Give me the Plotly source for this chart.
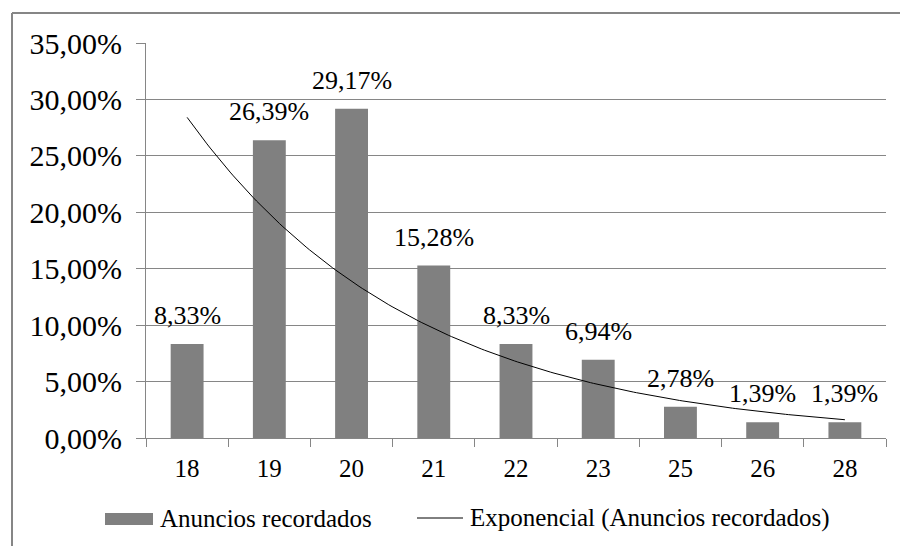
import numpy as np
import plotly.graph_objects as go

categories = ["18", "19", "20", "21", "22", "23", "25", "26", "28"]
values = [8.33, 26.39, 29.17, 15.28, 8.33, 6.94, 2.78, 1.39, 1.39]
y_ticks = [0, 5, 10, 15, 20, 25, 30, 35]
y_tick_labels = ["0,00%", "5,00%", "10,00%", "15,00%", "20,00%", "25,00%", "30,00%", "35,00%"]
bar_name = "Anuncios recordados"
trend_name = "Exponencial (Anuncios recordados)"

FONT = "Liberation Serif"
W, H = 900, 546
L, R, T, B = 146, 14, 43, 108
pw, ph = W - L - R, H - T - B

xpos = np.arange(len(categories))

# Exponential trendline (least squares on log values, as a spreadsheet does)
b, ln_a = np.polyfit(xpos + 1, np.log(values), 1)
xt = np.linspace(0, len(categories) - 1, 200)
yt = np.exp(ln_a) * np.exp(b * (xt + 1))

fig = go.Figure()
fig.add_trace(go.Bar(x=xpos, y=values, width=0.4, marker=dict(color="#808080", line=dict(width=0)),
                     name=bar_name, showlegend=False))
fig.add_trace(go.Scatter(x=xt, y=yt, mode="lines", line=dict(color="black", width=1),
                         name=trend_name, showlegend=False))

for xi, v in zip(xpos, values):
    fig.add_annotation(x=xi, y=v, text=f"{v:.2f}%".replace(".", ","), showarrow=False,
                       yanchor="bottom", yshift=12, font=dict(family=FONT, size=26, color="black"))

def px2paper_x(px):
    return (px - L) / pw

def px2paper_y(py):
    return (H - B - py) / ph

shapes = [
    # outer frame (top and left visible)
    dict(type="line", xref="paper", yref="paper", x0=px2paper_x(12), x1=px2paper_x(905),
         y0=px2paper_y(13), y1=px2paper_y(13), line=dict(color="#868686", width=2)),
    dict(type="line", xref="paper", yref="paper", x0=px2paper_x(12), x1=px2paper_x(12),
         y0=px2paper_y(13), y1=px2paper_y(550), line=dict(color="#868686", width=2)),
    # legend swatches
    dict(type="rect", xref="paper", yref="paper", x0=px2paper_x(105), x1=px2paper_x(153),
         y0=px2paper_y(525), y1=px2paper_y(513), fillcolor="#808080", line=dict(width=0)),
    dict(type="line", xref="paper", yref="paper", x0=px2paper_x(417), x1=px2paper_x(463),
         y0=px2paper_y(518), y1=px2paper_y(518), line=dict(color="black", width=1)),
]
fig.add_annotation(xref="paper", yref="paper", x=px2paper_x(158), y=px2paper_y(518), text=bar_name,
                   showarrow=False, xanchor="left", yanchor="middle",
                   font=dict(family=FONT, size=25, color="black"))
fig.add_annotation(xref="paper", yref="paper", x=px2paper_x(468), y=px2paper_y(518), text=trend_name,
                   showarrow=False, xanchor="left", yanchor="middle",
                   font=dict(family=FONT, size=25, color="black"))

fig.update_layout(
    width=W, height=H, margin=dict(l=L, r=R, t=T, b=B),
    paper_bgcolor="white", plot_bgcolor="white",
    font=dict(family=FONT, size=25, color="black"),
    shapes=shapes, showlegend=False,
    xaxis=dict(range=[-0.5, len(categories) - 0.5], tickmode="array", tickvals=list(xpos),
               ticktext=categories, ticks="", showgrid=False, zeroline=False,
               showline=True, linecolor="#868686", linewidth=1,
               ticklabelstandoff=8, tickfont=dict(family=FONT, size=25),
               minor=dict(tickmode="array", tickvals=list(np.arange(-0.5, len(categories), 1.0)),
                          ticks="outside", ticklen=8, tickcolor="#868686", showgrid=False)),
    yaxis=dict(range=[0, 35], tickmode="array", tickvals=y_ticks, ticktext=y_tick_labels,
               ticks="outside", ticklen=9, tickcolor="#868686",
               showgrid=True, gridcolor="#868686", gridwidth=1, zeroline=False,
               showline=True, linecolor="#868686", linewidth=1,
               ticklabelstandoff=8, tickfont=dict(family=FONT, size=30)),
)

fig.write_html("out.html", config={"displayModeBar": False},
               post_script="document.body.style.margin='0';document.body.style.padding='0';")
